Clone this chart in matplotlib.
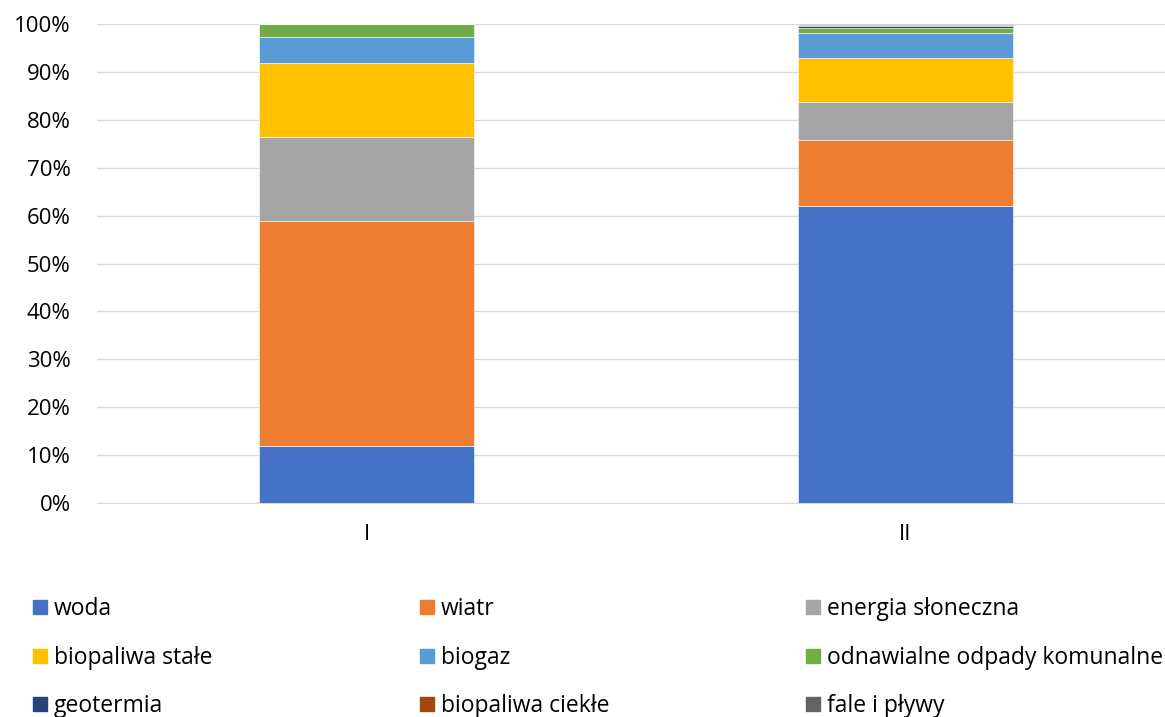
import matplotlib.pyplot as plt
from matplotlib.patches import Rectangle
from matplotlib.ticker import PercentFormatter

plt.rcParams['font.family'] = ['Open Sans', 'DejaVu Sans']

categories = ['I', 'II']
sources = ['woda', 'wiatr', 'energia słoneczna',
           'biopaliwa stałe', 'biogaz', 'odnawialne odpady komunalne',
           'geotermia', 'biopaliwa ciekłe', 'fale i pływy']
shares_I = [11.9, 47.0, 17.5, 15.5, 5.4, 2.7, 0.0, 0.0, 0.0]
shares_II = [62.0, 13.8, 7.9, 9.2, 5.2, 1.1, 0.3, 0.3, 0.2]
colors = ['#4472C4', '#ED7D31', '#A5A5A5', '#FFC000', '#5B9BD5',
          '#70AD47', '#264478', '#9E480E', '#636363']

fig = plt.figure(figsize=(11.65, 7.17), dpi=100)
ax = fig.add_axes([97 / 1165, 1 - 503 / 717, 1078 / 1165, 479 / 717])

x = range(len(categories))
bottom = [0.0, 0.0]
for i, (name, col) in enumerate(zip(sources, colors)):
    vals = [shares_I[i], shares_II[i]]
    ax.bar(x, vals, width=0.4, bottom=bottom, color=col,
           edgecolor='white', linewidth=0.4, zorder=3)
    bottom = [b + v for b, v in zip(bottom, vals)]

ax.set_xlim(-0.5, 1.5)
ax.set_ylim(0, 100)
ax.set_yticks(range(0, 101, 10))
ax.yaxis.set_major_formatter(PercentFormatter(decimals=0))
ax.set_xticks(list(x))
ax.set_xticklabels(categories)
ax.tick_params(axis='both', length=0, labelsize=16, colors='#000000')
ax.tick_params(axis='x', pad=15)
ax.tick_params(axis='y', pad=19)
ax.grid(axis='y', color='#d9d9d9', linewidth=1, zorder=0)
for s in ['top', 'right', 'left']:
    ax.spines[s].set_visible(False)
ax.spines['bottom'].set_color('#d9d9d9')

# legend laid out in three fixed columns
col_x = [33, 420, 806]
row_y = [607, 656, 704]
for k, (name, col) in enumerate(zip(sources, colors)):
    cx = col_x[k % 3]
    cy = row_y[k // 3]
    fig.patches.append(Rectangle((cx / 1165, 1 - (cy + 7) / 717), 14 / 1165, 14 / 717,
                                 transform=fig.transFigure, color=col))
    fig.text((cx + 21) / 1165, 1 - (cy + 2) / 717, name, fontsize=16.5,
             va='center', ha='left', color='#000000')

fig.savefig('out.png', dpi=100)
